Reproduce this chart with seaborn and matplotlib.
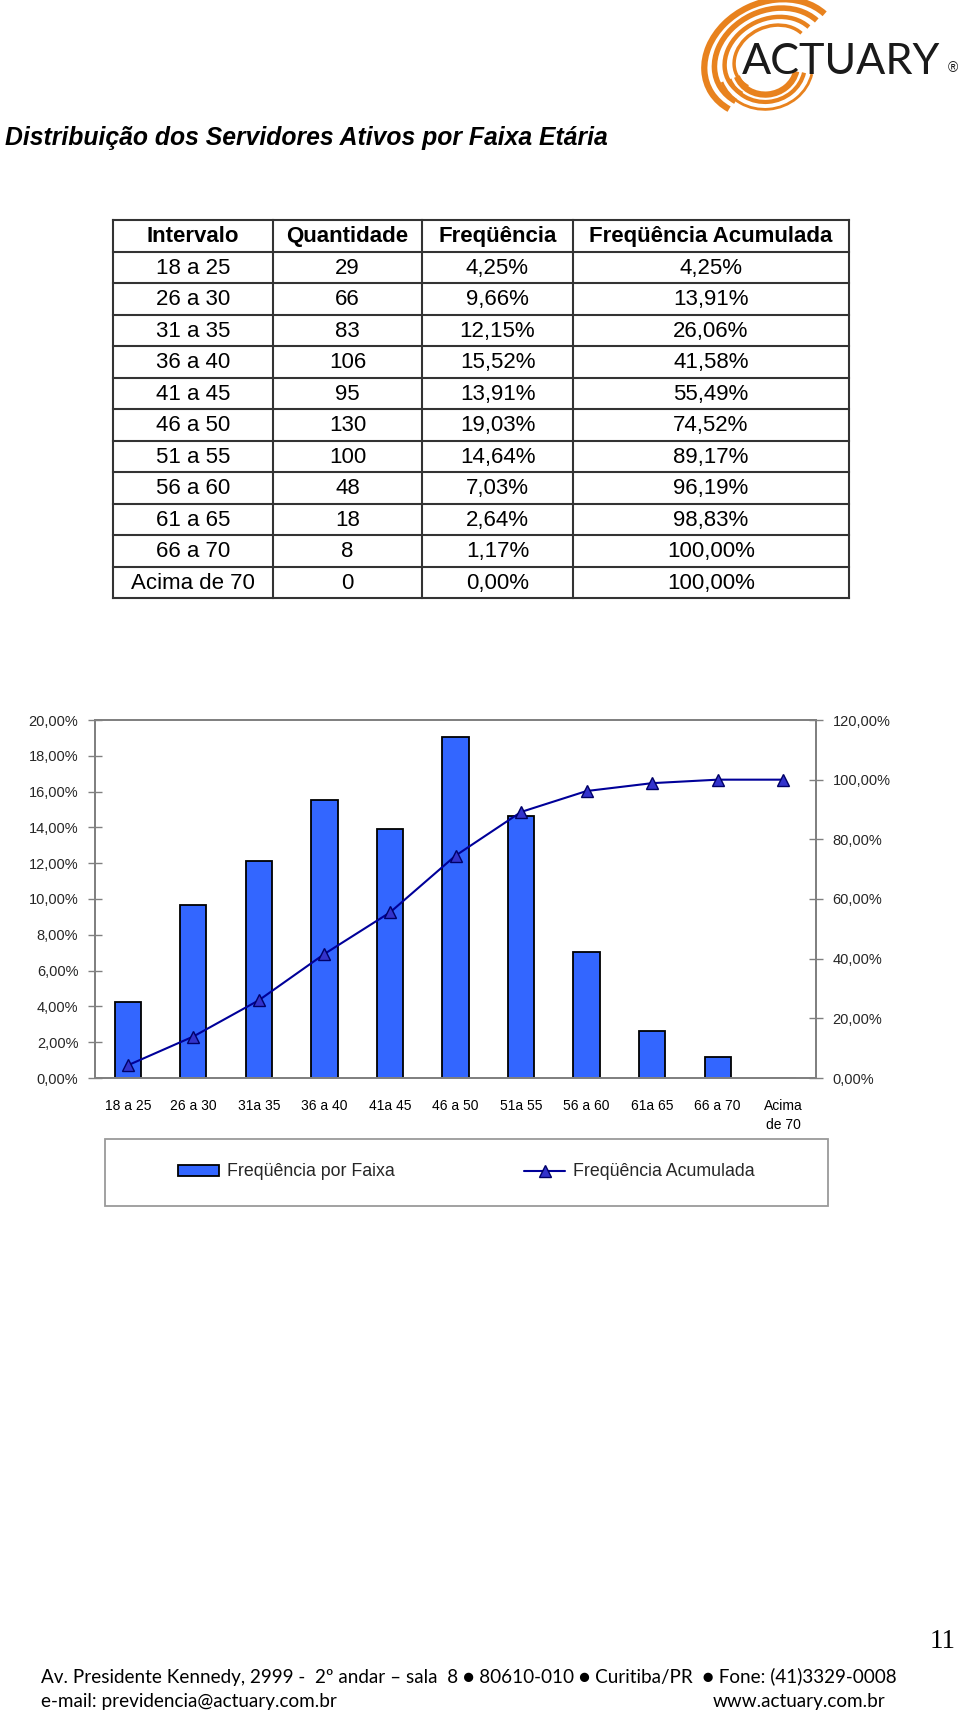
import numpy as np
import pandas as pd
import matplotlib
matplotlib.use("Agg")
import matplotlib.pyplot as plt
import seaborn as sns
from matplotlib import font_manager
from matplotlib.patches import Arc, Rectangle, Patch
from matplotlib.lines import Line2D

# ---------------- data ----------------
intervals = ["18 a 25", "26 a 30", "31 a 35", "36 a 40", "41 a 45", "46 a 50",
             "51 a 55", "56 a 60", "61 a 65", "66 a 70", "Acima de 70"]
axis_labels = ["18 a 25", "26 a 30", "31a 35", "36 a 40", "41a 45", "46 a 50",
               "51a 55", "56 a 60", "61a 65", "66 a 70", "Acima\nde 70"]
quantities = [29, 66, 83, 106, 95, 130, 100, 48, 18, 8, 0]
freq = [4.25, 9.66, 12.15, 15.52, 13.91, 19.03, 14.64, 7.03, 2.64, 1.17, 0.00]
cum = [4.25, 13.91, 26.06, 41.58, 55.49, 74.52, 89.17, 96.19, 98.83, 100.00, 100.00]
left_ticks = list(range(0, 21, 2))
right_ticks = list(range(0, 121, 20))
headers = ["Intervalo", "Quantidade", "Freqüência", "Freqüência Acumulada"]
legend_labels = ["Freqüência por Faixa", "Freqüência Acumulada"]
title = "Distribuição dos Servidores Ativos por Faixa Etária"
footer1 = "Av. Presidente Kennedy, 2999 -  2º andar – sala  8 ● 80610-010 ● Curitiba/PR  ● Fone: (41)3329-0008"
footer2_left = "e-mail: previdencia@actuary.com.br"
footer2_right = "www.actuary.com.br"
page_number = "11"


def pct(v):
    return f"{v:.2f}".replace(".", ",") + "%"


def has_font(name):
    try:
        font_manager.findfont(font_manager.FontProperties(family=name), fallback_to_default=False)
        return True
    except Exception:
        return False


sns.set_style("white")
plt.rcParams["font.family"] = ["Liberation Sans", "DejaVu Sans"]
NARROW = "Liberation Sans Narrow" if has_font("Liberation Sans Narrow") else "Liberation Sans"

W, H = 960, 1713
fig = plt.figure(figsize=(W / 100, H / 100), dpi=100)
fig.patch.set_facecolor("white")

# overlay axes in pixel coordinates (y downward)
ov = fig.add_axes([0, 0, 1, 1], zorder=-1)
ov.set_xlim(0, W)
ov.set_ylim(H, 0)
ov.axis("off")

BLUE = "#3366FF"
NAVY = "#000099"
MFACE = "#3333CC"
GRAY = "#808080"

# ---------------- chart ----------------
L, R, T, B = 95, 816, 720, 1078
ax = fig.add_axes([L / W, (H - B) / H, (R - L) / W, (B - T) / H])
df = pd.DataFrame({"Intervalo": intervals, "Freq": freq, "Cum": cum})
sns.barplot(data=df, x="Intervalo", y="Freq", color=BLUE, saturation=1,
            edgecolor="black", linewidth=1.3, width=0.4, ax=ax)
ax.set_xlim(-0.5, len(intervals) - 0.5)
ax.set_ylim(0, 20)
ax.set_xlabel("")
ax.set_ylabel("")
ax.set_yticks(left_ticks)
ax.set_yticklabels([pct(v) for v in left_ticks])
ax.set_xticks(range(len(intervals)))
ax.set_xticklabels(axis_labels, linespacing=1.45)
ax.set_xticks(np.arange(0.5, len(intervals) - 0.5, 1), minor=True)
ax.tick_params(axis="x", which="major", length=0, pad=15, labelsize=10, colors="black")
ax.tick_params(axis="x", which="minor", direction="inout", length=10, color=GRAY, width=1)
ax.tick_params(axis="y", direction="inout", length=10, color=GRAY, width=1,
               labelsize=10.5, pad=7, left=True)
for s in ax.spines.values():
    s.set_color(GRAY)
    s.set_linewidth(1.3)
    s.set_visible(True)

ax2 = ax.twinx()
sns.lineplot(x=np.arange(len(cum)), y=cum, ax=ax2, color=NAVY, linewidth=1.5,
             marker="^", markersize=9, markerfacecolor=MFACE, markeredgecolor="#000066",
             markeredgewidth=1)
ax2.set_ylim(0, 120)
ax2.set_yticks(right_ticks)
ax2.set_yticklabels([pct(v) for v in right_ticks])
ax2.set_ylabel("")
ax2.tick_params(axis="y", direction="inout", length=10, color=GRAY, width=1,
                labelsize=10.5, pad=7, right=True)
for s in ax2.spines.values():
    s.set_color(GRAY)
    s.set_linewidth(1.3)

# legend
ov.add_patch(Rectangle((105, 1139), 723, 67, facecolor="none", edgecolor="#9a9a9a", lw=1.3))
handles = [Patch(facecolor=BLUE, edgecolor="black", linewidth=1.3),
           Line2D([0], [0], color=NAVY, lw=1.5, marker="^", markersize=9,
                  markerfacecolor=MFACE, markeredgecolor="#000066")]
fig.legend(handles, legend_labels, loc="center",
           bbox_to_anchor=((105 + 723 / 2) / W, 1 - 1172 / H), ncol=2, frameon=False,
           fontsize=12.8, handlelength=2.3, handleheight=0.6, handletextpad=0.45,
           columnspacing=7.3, numpoints=1)

# ---------------- table ----------------
col_x = [113, 273, 422, 573, 849]
top = 220
rh = 31.5
nrows = len(intervals) + 1
bottom = top + nrows * rh
for x in col_x:
    ov.plot([x, x], [top, bottom], color="#333333", lw=1.5, solid_capstyle="projecting")
for i in range(nrows + 1):
    y = top + i * rh
    ov.plot([col_x[0], col_x[-1]], [y, y], color="#333333", lw=1.5, solid_capstyle="projecting")
centers = [(col_x[i] + col_x[i + 1]) / 2 for i in range(4)]
for c, h in zip(centers, headers):
    ov.text(c, top + rh / 2 + 1, h, ha="center", va="center", fontsize=16,
            fontweight="bold", color="black")
for r in range(len(intervals)):
    yc = top + (r + 1.5) * rh + 1
    vals = [intervals[r], str(quantities[r]), pct(freq[r]), pct(cum[r])]
    for c, v in zip(centers, vals):
        ov.text(c, yc, v, ha="center", va="center", fontsize=16, color="black")

# ---------------- title, logo, footer ----------------
t_title = ov.text(5, 138, title, ha="left", va="center", fontsize=20,
                  family=NARROW, fontweight="bold", fontstyle="italic", color="black")

ORANGE = "#E8821E"
cx, cy = 772, 58
for k, lw in zip([1.0, 0.85, 0.70, 0.56], [4.5, 4, 3.2, 2.5]):
    ov.add_patch(Arc((cx, cy), 140 * k, 112 * k, angle=-25, theta1=155, theta2=345,
                     color=ORANGE, lw=lw))
for k, lw in zip([0.62, 0.78, 0.94], [4.5, 3, 2]):
    ov.add_patch(Arc((766, 66), 100 * k, 92 * k, angle=-10, theta1=20, theta2=170,
                     color=ORANGE, lw=lw))
t_logo = ov.text(742, 62, "ACTUARY", ha="left", va="center", fontsize=30,
                 family=["Lato", "DejaVu Sans"], fontweight="normal", color="#1a1a1a")
ov.text(953, 68, "®", ha="center", va="center", fontsize=10, color="#1a1a1a")

FOOT = ["Lato", "DejaVu Sans"]
t_f1 = ov.text(41, 1677, footer1, ha="left", va="center", fontsize=13, family=FOOT, color="black")
t_f2 = ov.text(41, 1701, footer2_left, ha="left", va="center", fontsize=13, family=FOOT, color="black")
t_f3 = ov.text(885, 1701, footer2_right, ha="right", va="center", fontsize=13, family=FOOT, color="black")
t_pg = ov.text(943, 1641, page_number, ha="center", va="center", fontsize=18,
               family=["Liberation Serif", "DejaVu Serif"], color="black")

fig.canvas.draw()
rend = fig.canvas.get_renderer()


def fit(t, width_px):
    bb = t.get_window_extent(renderer=rend)
    t.set_fontsize(t.get_fontsize() * width_px / bb.width)


fit(t_title, 602)
fit(t_logo, 198)
fit(t_f1, 852)
t_f2.set_fontsize(t_f1.get_fontsize())
t_f3.set_fontsize(t_f1.get_fontsize())
fit(t_pg, 26)

fig.savefig("out.png", dpi=100, facecolor="white")
